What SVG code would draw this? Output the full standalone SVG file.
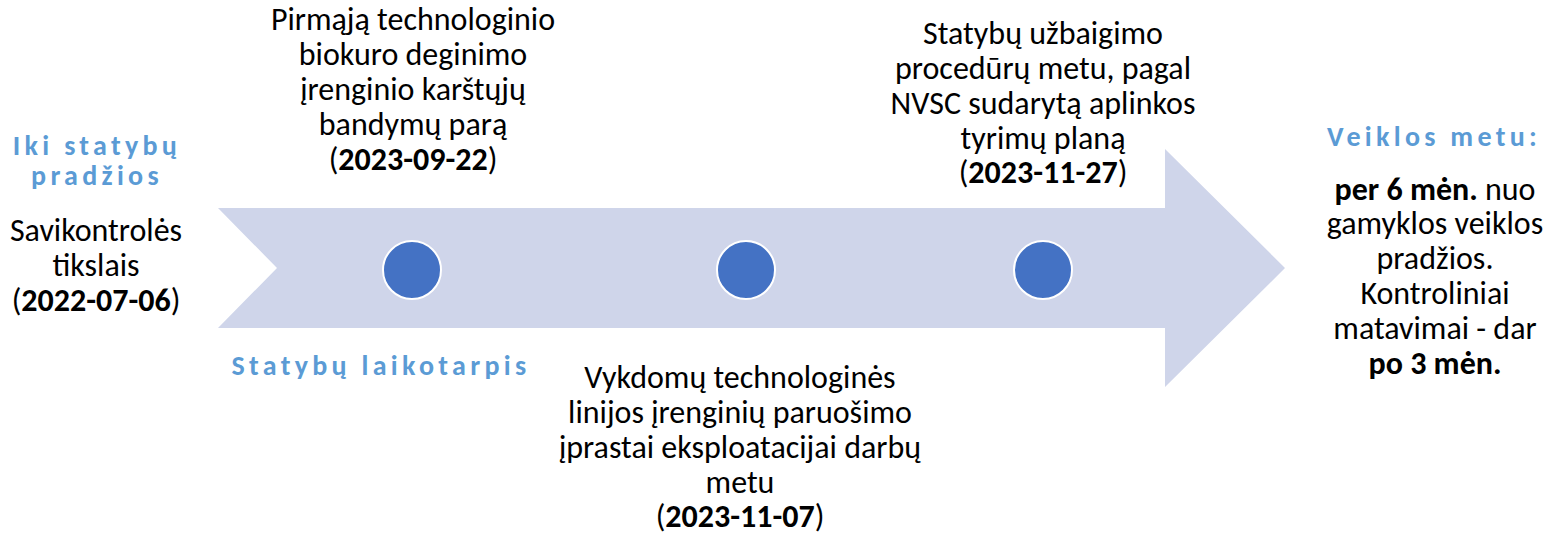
<svg xmlns="http://www.w3.org/2000/svg" width="1557" height="533" viewBox="0 0 1557 533">
  <style>
    text { font-family: Carlito, Lato, "Open Sans", sans-serif; }
    .t { font-size: 32px; fill: #000; text-anchor: middle; }
    .b { font-weight: bold; }
    .h { font-size: 28px; font-weight: bold; fill: #5B9BD5; letter-spacing: 4.3px; text-anchor: middle; }
    .dot { fill: #4472C4; stroke: #FFFFFF; stroke-width: 2; }
  </style>
  <rect width="1557" height="533" fill="#FFFFFF"/>
  <g id="timeline-arrow">
    <polygon points="218,208 1165,208 1165,149 1285,268 1165,387 1165,328 218,328 277,268" fill="#CFD5EA"/>
  </g>
  <g id="connectors"></g>
  <g id="milestone-1"><circle class="dot" cx="412" cy="270" r="29"/></g>
  <g id="milestone-2"><circle class="dot" cx="746" cy="270" r="29"/></g>
  <g id="milestone-3"><circle class="dot" cx="1043" cy="270" r="29"/></g>

  <g id="pre-construction">
    <text class="h" x="97" y="155">Iki statybų</text>
    <text class="h" x="97" y="185">pradžios</text>
    <text class="t" x="96" y="241">Savikontrolės</text>
    <text class="t" x="96" y="276">tikslais</text>
    <text class="t" x="96" y="311">(<tspan class="b">2022-07-06</tspan>)</text>
  </g>

  <g id="event-1">
    <text class="t" x="413" y="30">Pirmąją technologinio</text>
    <text class="t" x="413" y="65">biokuro deginimo</text>
    <text class="t" x="413" y="100">įrenginio karštųjų</text>
    <text class="t" x="413" y="135">bandymų parą</text>
    <text class="t" x="413" y="170">(<tspan class="b">2023-09-22</tspan>)</text>
  </g>

  <g id="construction-period">
    <text class="h" x="381" y="375">Statybų laikotarpis</text>
  </g>

  <g id="event-2">
    <text class="t" x="740" y="388">Vykdomų technologinės</text>
    <text class="t" x="740" y="423">linijos įrenginių paruošimo</text>
    <text class="t" x="740" y="458">įprastai eksploatacijai darbų</text>
    <text class="t" x="740" y="493">metu</text>
    <text class="t" x="740" y="527">(<tspan class="b">2023-11-07</tspan>)</text>
  </g>

  <g id="event-3">
    <text class="t" x="1043" y="44">Statybų užbaigimo</text>
    <text class="t" x="1043" y="79">procedūrų metu, pagal</text>
    <text class="t" x="1043" y="114">NVSC sudarytą aplinkos</text>
    <text class="t" x="1043" y="149">tyrimų planą</text>
    <text class="t" x="1043" y="183">(<tspan class="b">2023-11-27</tspan>)</text>
  </g>

  <g id="operation">
    <text class="h" x="1434" y="146">Veiklos metu:</text>
    <text class="t" x="1435" y="200"><tspan class="b">per 6 mėn.</tspan> nuo</text>
    <text class="t" x="1435" y="234">gamyklos veiklos</text>
    <text class="t" x="1435" y="269">pradžios.</text>
    <text class="t" x="1435" y="304">Kontroliniai</text>
    <text class="t" x="1435" y="339">matavimai - dar</text>
    <text class="t" x="1435" y="374"><tspan class="b">po 3 mėn.</tspan></text>
  </g>
</svg>
